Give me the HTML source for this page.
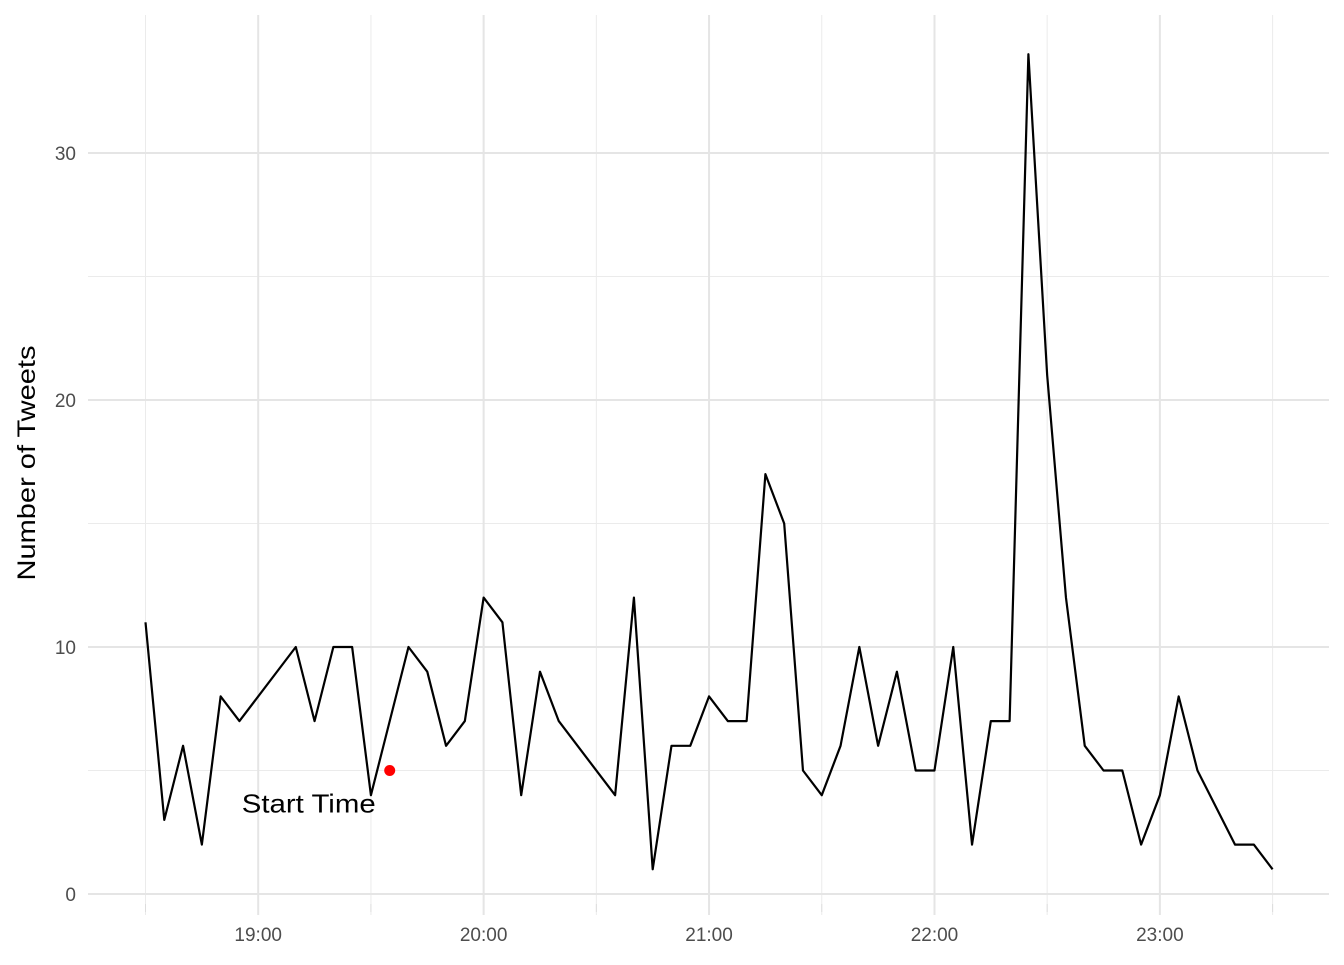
<!DOCTYPE html>
<html><head><meta charset="utf-8"><style>
html,body{margin:0;padding:0;background:#fff}
svg text{font-family:"Liberation Sans",Arial,sans-serif}
</style></head><body>
<svg id="chart" width="1344" height="960" xmlns="http://www.w3.org/2000/svg">
<g id="grid"></g>
<g id="axes"></g>
<g id="series"></g>
<text transform="translate(35,463) rotate(-90)" text-anchor="middle" font-size="25" textLength="235" lengthAdjust="spacingAndGlyphs" fill="#000">Number of Tweets</text>
</svg>
<script>
const minutes=[0,5,10,15,20,25,40,45,50,55,60,70,75,80,85,90,95,100,105,110,125,130,135,140,145,150,155,160,165,170,175,180,185,190,195,200,205,210,215,220,225,230,235,240,245,250,255,260,265,270,275,280,290,295,300];
const tweets=[11,3,6,2,8,7,10,7,10,10,4,10,9,6,7,12,11,4,9,7,4,12,1,6,6,8,7,7,17,15,5,4,6,10,6,9,5,5,10,2,7,7,34,21,12,6,5,5,2,4,8,5,2,2,1];
const yTicks=[0,10,20,30];
const yMinor=[5,15,25];
const xTickLabels=["19:00","20:00","21:00","22:00","23:00"];
const xTickMinutes=[30,90,150,210,270];
const xMinorMinutes=[0,60,120,180,240,300];
const startMinute=[65];
const startValue=[5];
const startLabel=["Start Time"];

const NS="http://www.w3.org/2000/svg";
const x=m=>145.5+m*3.757;
const y=v=>894-v*24.7;
function mk(tag,attrs,parent){const e=document.createElementNS(NS,tag);for(const k in attrs)e.setAttribute(k,attrs[k]);parent.appendChild(e);return e;}
const grid=document.getElementById('grid'),axes=document.getElementById('axes'),series=document.getElementById('series');
yMinor.forEach(v=>{const l=mk('line',{x1:88,x2:1329,y1:y(v),y2:y(v),stroke:'#ebebeb','stroke-width':1},grid);

});
xMinorMinutes.forEach(m=>{const l=mk('line',{x1:x(m),x2:x(m),y1:15,y2:915,stroke:'#ebebeb','stroke-width':1},grid);


const t=mk('line',{x1:x(m),x2:x(m),y1:904,y2:912,stroke:'#ddd','stroke-width':1},axes);

});
yTicks.forEach(v=>{const l=mk('line',{x1:88,x2:1329,y1:y(v),y2:y(v),stroke:'#e5e5e5','stroke-width':2},grid);


const t=mk('text',{x:76,y:y(v)+7,'text-anchor':'end','font-size':19,fill:'#4d4d4d'},axes);t.textContent=v;

});
xTickMinutes.forEach((m,i)=>{const l=mk('line',{x1:x(m),x2:x(m),y1:15,y2:915,stroke:'#e5e5e5','stroke-width':2},grid);


const t=mk('text',{x:x(m),y:941,'text-anchor':'middle','font-size':19,fill:'#4d4d4d'},axes);t.textContent=xTickLabels[i];

});
const p=mk('polyline',{points:minutes.map((m,i)=>x(m)+','+y(tweets[i])).join(' '),fill:'none',stroke:'#000','stroke-width':2.2,'stroke-linejoin':'round'},series);


const c=mk('circle',{cx:x(startMinute[0]),cy:y(startValue[0]),r:5.5,fill:'#ff0000'},series);


const st=mk('text',{x:x(startMinute[0])-148,y:y(startValue[0])+42,'text-anchor':'start','font-size':26,textLength:134,lengthAdjust:'spacingAndGlyphs',fill:'#000'},series);st.textContent=startLabel[0];


</script>
</body></html>
